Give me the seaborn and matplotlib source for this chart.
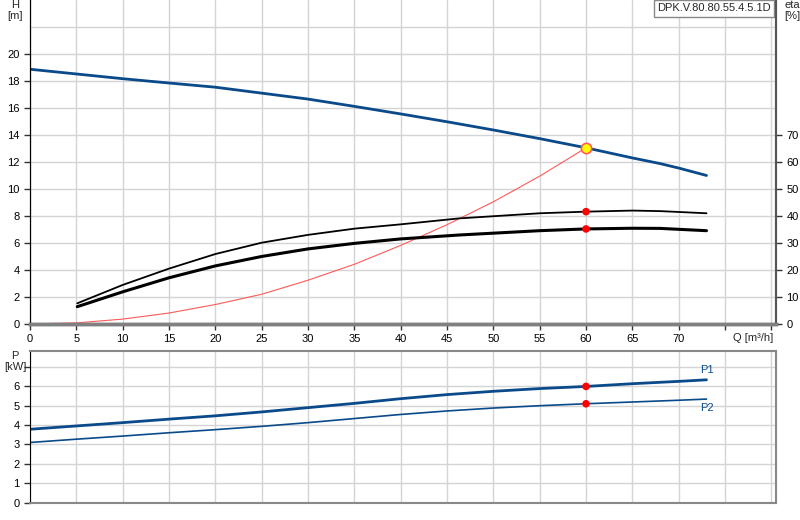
import numpy as np
import pandas as pd
import seaborn as sns
import matplotlib.pyplot as plt

sns.set_style("white")
plt.rcParams['font.family'] = ['Liberation Sans', 'DejaVu Sans']

# pump head curve H [m]
q_h = [0, 5, 10, 15, 20, 25, 30, 35, 40, 45, 50, 55, 60, 65, 68, 70, 73]
h_vals = [18.87, 18.52, 18.17, 17.85, 17.54, 17.1, 16.66, 16.12, 15.56, 14.98,
          14.37, 13.73, 13.05, 12.3, 11.88, 11.55, 11.0]

# system curve (drawn on H scale)
q_sys = [0, 5, 10, 15, 20, 25, 30, 35, 40, 45, 50, 55, 60]
h_sys = [0, 0.08, 0.36, 0.81, 1.44, 2.2, 3.24, 4.42, 5.82, 7.35, 9.05, 10.95, 13.05]

# efficiency curves eta [%]
q_eta = [5.1, 10, 15, 20, 25, 30, 35, 40, 46.3, 55, 60, 65, 68, 73]
eta_hyd = [7.65, 14.45, 20.5, 25.9, 30.1, 33.0, 35.3, 36.9, 39.1, 41.0,
           41.6, 42.0, 41.8, 41.0]
eta_tot = [6.4, 11.9, 17.1, 21.5, 25.0, 27.8, 29.85, 31.5, 32.95, 34.55,
           35.2, 35.45, 35.4, 34.55]

# power curves P [kW]
q_p = [0, 5, 10, 15, 20, 25, 30, 35, 40, 45, 50, 55, 60, 65, 70, 73]
p1 = [3.78, 3.95, 4.12, 4.3, 4.47, 4.67, 4.89, 5.11, 5.35, 5.56, 5.73, 5.87,
      5.98, 6.12, 6.24, 6.32]
p2 = [3.1, 3.27, 3.43, 3.6, 3.76, 3.93, 4.12, 4.33, 4.54, 4.72, 4.87, 4.99,
      5.09, 5.18, 5.27, 5.33]

# duty point
q_duty = 60
h_duty = 13.05
eta_duty = [41.6, 35.2]
p_duty = [5.98, 5.09]

x_ticks = [0, 5, 10, 15, 20, 25, 30, 35, 40, 45, 50, 55, 60, 65, 70]
title = 'DPK.V.80.80.55.4.5.1D'

blue = '#0a4a8a'
grid_c = '#d4d4d4'
fs = 8

fig = plt.figure(figsize=(8, 5.2), dpi=100)
ax = fig.add_axes([0.0375, 0.377, 0.9325, 0.623])
ax2 = ax.twinx()
axp = fig.add_axes([0.0375, 0.033, 0.9325, 0.292])

# --- top panel
ax.set_xlim(0, 80.5)
ax.set_ylim(0, 24)
ax2.set_ylim(0, 120)
ax.set_xticks(np.arange(0, 81, 5))
ax.set_xticklabels([str(t) for t in x_ticks] + ['', ''])
ax.set_yticks(np.arange(0, 21, 2))
ax2.set_yticks(np.arange(0, 71, 10))
ax.grid(True, color=grid_c, lw=1)
ax.axhline(22, color=grid_c, lw=1, zorder=0)
ax.set_axisbelow(True)

sns.lineplot(x=q_sys, y=h_sys, ax=ax, color='#ff5a5a', lw=0.8)
sns.lineplot(x=q_h, y=h_vals, ax=ax, color=blue, lw=2)
sns.lineplot(x=q_eta, y=eta_hyd, ax=ax2, color='black', lw=1.3)
sns.lineplot(x=q_eta, y=eta_tot, ax=ax2, color='black', lw=2.2)
sns.scatterplot(x=[q_duty, q_duty], y=eta_duty, ax=ax2, color='red', s=30,
                edgecolor='none', zorder=5)
sns.scatterplot(x=[q_duty], y=[h_duty], ax=ax, color='yellow', s=55,
                edgecolor='#ff5a5a', linewidth=1.2, zorder=6)

for a in (ax, ax2):
    a.set_xlabel('')
    a.set_ylabel('')
    a.spines['top'].set_visible(False)
    a.spines['left'].set_color('black')
    a.spines['right'].set_color('#555555')
    a.spines['right'].set_linewidth(1.5)
    a.spines['bottom'].set_color('#808080')
    a.spines['bottom'].set_linewidth(2.5)
ax.tick_params(axis='both', labelsize=fs, length=4, width=1, direction='out',
               bottom=True, left=True, colors='#333333', labelcolor='black')
ax2.tick_params(axis='y', labelsize=fs, length=4, width=1, direction='out',
                right=True, colors='#333333', labelcolor='black')

ax.text(-0.02, 1.0, 'H\n[m]', transform=ax.transAxes, ha='center', va='top',
        fontsize=fs, linespacing=1.1)
ax2.text(1.022, 1.0, 'eta\n[%]', transform=ax2.transAxes, ha='center', va='top',
         fontsize=fs, linespacing=1.1)
ax.text(78, -0.7, 'Q [m³/h]', ha='center', va='top', fontsize=fs)
ax.text(0.993, 0.99, title, transform=ax.transAxes, ha='right', va='top',
        fontsize=fs, zorder=10,
        bbox=dict(boxstyle='square,pad=0.3', fc='white', ec='#888888', lw=1))

# --- bottom panel
axp.set_xlim(0, 80.5)
axp.set_ylim(0, 7.8)
axp.set_xticks(np.arange(0, 81, 5))
axp.set_xticklabels([])
axp.set_yticks(np.arange(0, 8, 1))
axp.set_yticklabels([str(t) if t <= 6 else '' for t in range(8)])
axp.grid(True, color=grid_c, lw=1)
axp.set_axisbelow(True)

sns.lineplot(x=q_p, y=p1, ax=axp, color=blue, lw=2)
sns.lineplot(x=q_p, y=p2, ax=axp, color=blue, lw=1.2)
sns.scatterplot(x=[q_duty, q_duty], y=p_duty, ax=axp, color='red', s=30,
                edgecolor='none', zorder=5)
axp.text(q_p[-1], p1[-1] + 0.25, 'P1', ha='center', va='bottom', fontsize=fs,
         color='#0a4a8a')
axp.text(q_p[-1], p2[-1] - 0.2, 'P2', ha='center', va='top', fontsize=fs,
         color='#0a4a8a')
axp.set_xlabel('')
axp.set_ylabel('')
for side in ('top', 'right', 'bottom'):
    axp.spines[side].set_color('#888888')
    axp.spines[side].set_linewidth(1.5)
axp.spines['left'].set_color('black')
axp.tick_params(axis='y', labelsize=fs, length=4, width=1, direction='out',
                left=True, colors='#333333', labelcolor='black')
axp.tick_params(axis='x', length=0)
axp.text(-0.02, 1.0, 'P\n[kW]', transform=axp.transAxes, ha='center', va='top',
         fontsize=fs, linespacing=1.1)

fig.savefig('out.png', dpi=100)
